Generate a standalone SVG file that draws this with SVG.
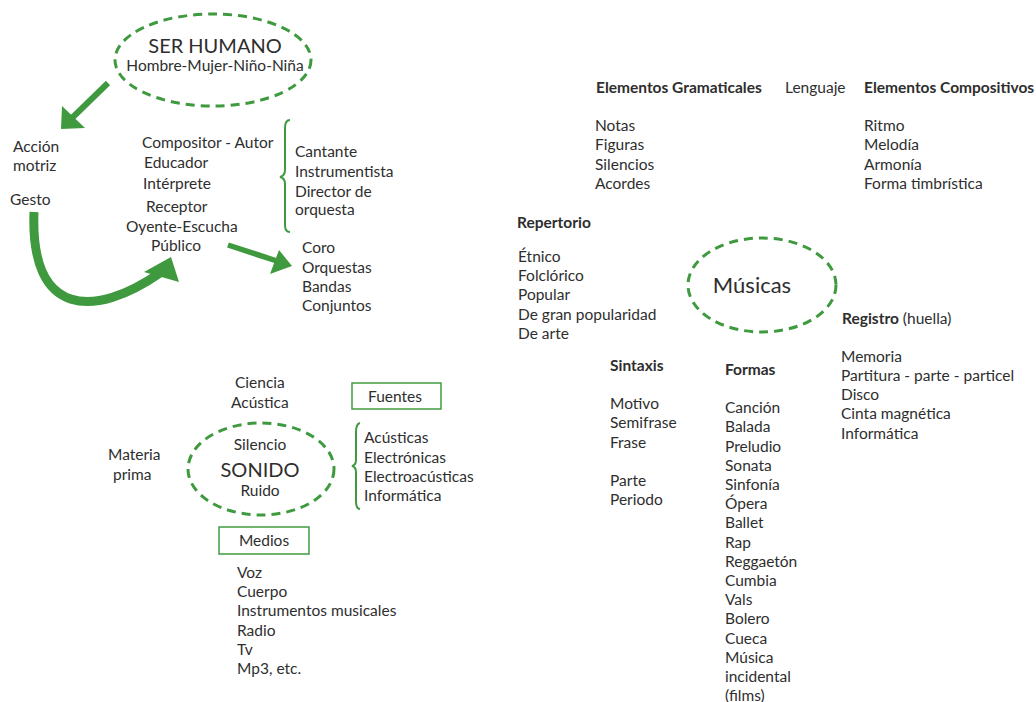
<svg xmlns="http://www.w3.org/2000/svg" width="1036" height="702" viewBox="0 0 1036 702">
<style>
text{font-family:Lato,"Open Sans","Liberation Sans",sans-serif;font-size:15.5px;fill:#2e2e2e}
.b{font-weight:bold}
.big{font-size:20px}
.c{text-anchor:middle}
.ell{fill:none;stroke:#3f9a3f;stroke-width:3;stroke-dasharray:9 6}
.box{fill:none;stroke:#3f9a3f;stroke-width:1.5}
.br{fill:none;stroke:#3f9a3f;stroke-width:2}
.ar{fill:none;stroke:#3f9a3f;stroke-linecap:butt}
.ah{fill:#3f9a3f}
</style>
<rect width="1036" height="702" fill="#fff"/>
<g id="connectors">
<line class="ar" x1="108" y1="83" x2="72" y2="118" stroke-width="6"/>
<polygon class="ah" points="61,129 62,106 85,128"/>
<path class="ar" d="M34 212 C30 318 95 318 160 273" stroke-width="9"/>
<polygon class="ah" points="179,282 144,272 171,257"/>
<line class="ar" x1="228" y1="245" x2="280" y2="262" stroke-width="5.5"/>
<polygon class="ah" points="292,266 279,250 270,274"/>
<path class="br" d="M290 120 Q285 120 285 128 L285 170 Q285 176 280 177 Q285 178 285 184 L285 225 Q285 232 290 232"/>
<path class="br" d="M360 423 Q356 424 356 432 L356 460 Q356 465 352 466 Q356 467 356 472 L356 501 Q356 509 360 509"/>
</g>
<g id="ser-humano">
<ellipse class="ell" cx="213" cy="60" rx="98" ry="46"/>
<text class="big c" x="215" y="53">SER HUMANO</text>
<text class="c" x="215" y="71">Hombre-Mujer-Niño-Niña</text>
</g>
<g id="accion">
<text x="13" y="152">Acción</text>
<text x="13" y="171">motriz</text>
<text x="10" y="205">Gesto</text>
</g>
<g id="roles">
<text x="142" y="148">Compositor - Autor</text>
<text x="144" y="168">Educador</text>
<text x="143" y="189">Intérprete</text>
<text x="146" y="212">Receptor</text>
<text x="126" y="232">Oyente-Escucha</text>
<text x="151" y="251">Público</text>
</g>
<g id="interpretes">
<text x="295" y="157">Cantante</text>
<text x="295" y="177">Instrumentista</text>
<text x="295" y="197">Director de</text>
<text x="295" y="215">orquesta</text>
</g>
<g id="agrupaciones">
<text x="302" y="253">Coro</text>
<text x="302" y="273">Orquestas</text>
<text x="302" y="292">Bandas</text>
<text x="302" y="311">Conjuntos</text>
</g>
<g id="ciencia">
<text x="235" y="388">Ciencia</text>
<text x="231" y="408">Acústica</text>
</g>
<g id="materia">
<text x="108" y="460">Materia</text>
<text x="113" y="480">prima</text>
</g>
<g id="sonido">
<ellipse class="ell" cx="261" cy="469" rx="73" ry="46"/>
<text class="c" x="260" y="450">Silencio</text>
<text class="big c" x="260" y="477">SONIDO</text>
<text class="c" x="260" y="496">Ruido</text>
</g>
<g id="fuentes">
<rect class="box" x="352" y="383" width="89" height="26"/>
<text class="c" x="395" y="402">Fuentes</text>
<text x="364" y="443">Acústicas</text>
<text x="364" y="463">Electrónicas</text>
<text x="364" y="482">Electroacústicas</text>
<text x="364" y="501">Informática</text>
</g>
<g id="medios">
<rect class="box" x="219" y="527" width="90" height="27"/>
<text class="c" x="264" y="546">Medios</text>
<text x="237" y="578">Voz</text>
<text x="237" y="597">Cuerpo</text>
<text x="237" y="616">Instrumentos musicales</text>
<text x="237" y="636">Radio</text>
<text x="237" y="655">Tv</text>
<text x="237" y="674">Mp3, etc.</text>
</g>
<g id="lenguaje">
<text class="b" x="596" y="93">Elementos Gramaticales</text>
<text x="785" y="93">Lenguaje</text>
<text class="b" x="864" y="93">Elementos Compositivos</text>
<text x="595" y="131">Notas</text>
<text x="595" y="150">Figuras</text>
<text x="595" y="170">Silencios</text>
<text x="595" y="189">Acordes</text>
<text x="864" y="131">Ritmo</text>
<text x="864" y="150">Melodía</text>
<text x="864" y="170">Armonía</text>
<text x="864" y="189">Forma timbrística</text>
</g>
<g id="repertorio">
<text class="b" x="517" y="228">Repertorio</text>
<text x="518" y="262">Étnico</text>
<text x="518" y="281">Folclórico</text>
<text x="518" y="300">Popular</text>
<text x="518" y="320">De gran popularidad</text>
<text x="518" y="339">De arte</text>
</g>
<g id="musicas">
<ellipse class="ell" cx="762" cy="285" rx="74" ry="47"/>
<text class="c" x="752" y="293" style="font-size:22px">Músicas</text>
</g>
<g id="registro">
<text x="842" y="324"><tspan class="b">Registro</tspan> (huella)</text>
<text x="841" y="362">Memoria</text>
<text x="841" y="381">Partitura - parte - particel</text>
<text x="841" y="400">Disco</text>
<text x="841" y="419">Cinta magnética</text>
<text x="841" y="439">Informática</text>
</g>
<g id="sintaxis">
<text class="b" x="610" y="371">Sintaxis</text>
<text x="610" y="409">Motivo</text>
<text x="610" y="428">Semifrase</text>
<text x="610" y="448">Frase</text>
<text x="610" y="486">Parte</text>
<text x="610" y="505">Periodo</text>
</g>
<g id="formas">
<text class="b" x="725" y="375">Formas</text>
<text x="725" y="413">Canción</text>
<text x="725" y="432">Balada</text>
<text x="725" y="452">Preludio</text>
<text x="725" y="471">Sonata</text>
<text x="725" y="490">Sinfonía</text>
<text x="725" y="509">Ópera</text>
<text x="725" y="528">Ballet</text>
<text x="725" y="548">Rap</text>
<text x="725" y="567">Reggaetón</text>
<text x="725" y="586">Cumbia</text>
<text x="725" y="605">Vals</text>
<text x="725" y="624">Bolero</text>
<text x="725" y="644">Cueca</text>
<text x="725" y="663">Música</text>
<text x="725" y="682">incidental</text>
<text x="725" y="701">(films)</text>
</g>
</svg>
